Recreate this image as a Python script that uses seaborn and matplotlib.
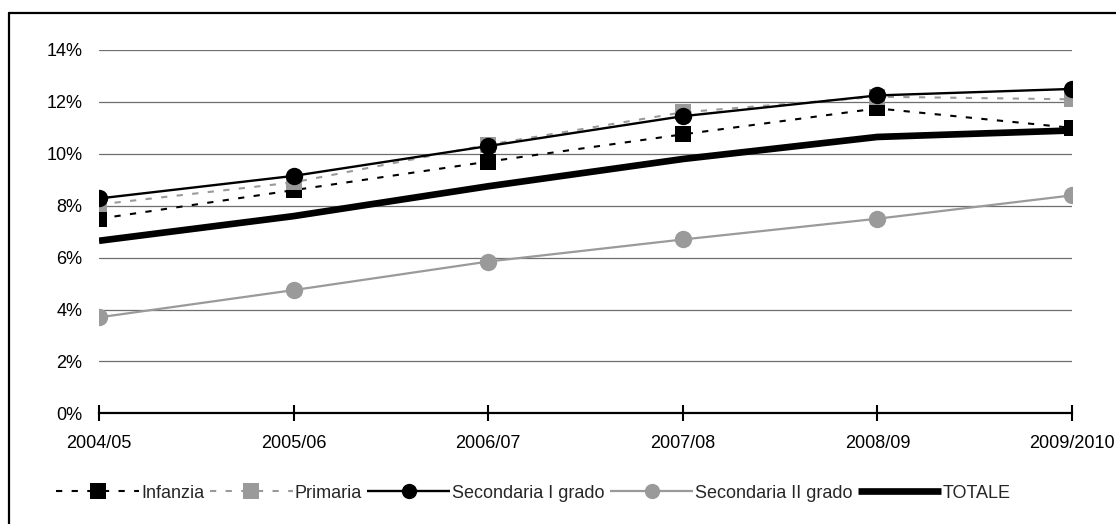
import matplotlib
matplotlib.use("Agg")
import matplotlib.pyplot as plt
from matplotlib.lines import Line2D
from matplotlib.ticker import FuncFormatter, MultipleLocator
import seaborn as sns
import pandas as pd

# School years and percentage series
anni = ["2004/05", "2005/06", "2006/07", "2007/08", "2008/09", "2009/2010"]
infanzia = [7.5, 8.6, 9.7, 10.75, 11.75, 11.0]
primaria = [8.05, 8.9, 10.35, 11.6, 12.2, 12.1]
secondaria_1 = [8.28, 9.15, 10.3, 11.45, 12.25, 12.5]
secondaria_2 = [3.7, 4.75, 5.85, 6.7, 7.5, 8.4]
totale = [6.65, 7.6, 8.75, 9.8, 10.65, 10.9]

GRAY = "#9a9a9a"
FS = 13

sns.set_theme(style="white")
plt.rcParams["font.family"] = ["Liberation Sans", "DejaVu Sans"]
plt.rcParams["font.size"] = FS

fig = plt.figure(figsize=(11.16, 5.24), dpi=100)
ax = fig.add_axes([99 / 1116, 1 - 413.4 / 524, (1072 - 99) / 1116, (413.4 - 50) / 524])

pos = list(range(len(anni)))
df = pd.DataFrame({"pos": pos})

series = [
    ("Infanzia", infanzia, dict(color="black", lw=1.5, dashes=(3, 4.5), marker="s", ms=11.5)),
    ("Primaria", primaria, dict(color=GRAY, lw=1.5, dashes=(3, 4.5), marker="s", ms=11.5)),
    ("Secondaria I grado", secondaria_1, dict(color="black", lw=1.7, marker="o", ms=12.5)),
    ("Secondaria II grado", secondaria_2, dict(color=GRAY, lw=1.6, marker="o", ms=12.5)),
    ("TOTALE", totale, dict(color="black", lw=4.8, marker=None)),
]

handles = []
for name, vals, st in series:
    d = df.assign(v=vals)
    kw = dict(color=st["color"], linewidth=st["lw"])
    if "dashes" in st:
        kw["dashes"] = st["dashes"]
    sns.lineplot(data=d, x="pos", y="v", ax=ax, sort=False, estimator=None,
                 marker=st["marker"], markersize=st["ms"] if st["marker"] else 0,
                 markeredgewidth=0, markerfacecolor=st["color"], label=name,
                 legend=False, **kw)
    line = ax.lines[-1]
    line.set_dash_capstyle("butt")
    line.set_solid_capstyle("butt")
    handles.append(line)

ax.set_xlim(0, len(anni) - 1)
ax.set_ylim(0, 14)
ax.yaxis.set_major_locator(MultipleLocator(2))
ax.yaxis.set_major_formatter(FuncFormatter(lambda v, _: f"{v:.0f}%"))
ax.set_xticks(pos)
ax.set_xticklabels(anni)
ax.set_xlabel("")
ax.set_ylabel("")

ax.grid(axis="y", color="#6e6e6e", lw=0.9)
ax.grid(axis="x", visible=False)
ax.set_axisbelow(True)
for s in ["left", "right", "top"]:
    ax.spines[s].set_visible(False)
ax.spines["bottom"].set_color("black")
ax.spines["bottom"].set_linewidth(1.6)
ax.spines["bottom"].set_zorder(1.5)

ax.tick_params(axis="x", direction="inout", length=11, width=1.5, color="black",
               bottom=True, pad=10, labelsize=FS, labelcolor="black")
ax.tick_params(axis="y", length=0, pad=12, labelsize=FS, labelcolor="black")

leg = fig.legend(handles=handles, labels=[s[0] for s in series], loc="center",
                 bbox_to_anchor=(0.478, 1 - 493 / 524), ncol=5, frameon=False,
                 handlelength=4.6, handletextpad=0.1, columnspacing=0.3,
                 numpoints=1, fontsize=FS)
for h in leg.legend_handles:
    h.set_markersize(11)

# outer chart frame (left and top edges)
fig.add_artist(Line2D([9 / 1116, 9 / 1116], [0, 1 - 13 / 524], color="black", lw=1.6,
                      transform=fig.transFigure))
fig.add_artist(Line2D([9 / 1116, 1], [1 - 13 / 524, 1 - 13 / 524], color="black", lw=1.6,
                      transform=fig.transFigure))

fig.savefig("out.png", dpi=100, facecolor="white")
